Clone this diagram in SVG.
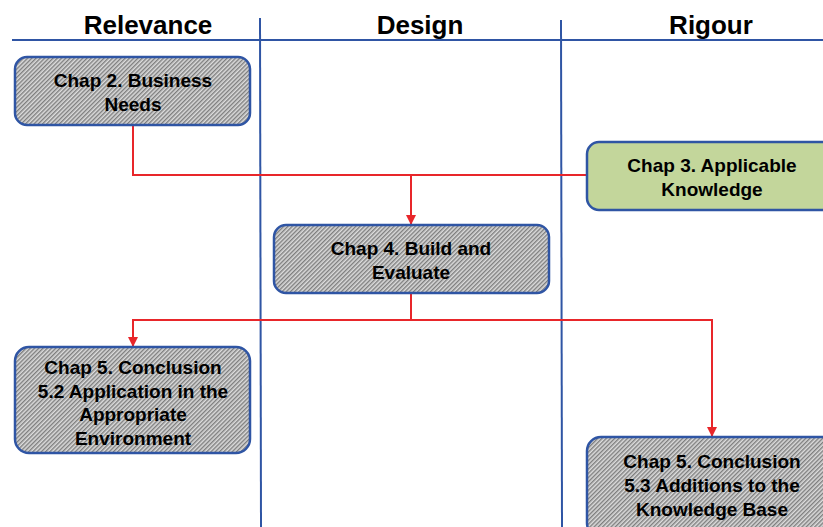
<svg xmlns="http://www.w3.org/2000/svg" width="823" height="527" viewBox="0 0 823 527">
<defs>
<pattern id="hatch" width="3" height="3" patternUnits="userSpaceOnUse" patternTransform="rotate(45)">
<rect width="3" height="3" fill="#dcdcdc"/>
<rect width="1.4" height="3" fill="#7e7e7e"/>
</pattern>
<marker id="arr" viewBox="0 0 10 10" refX="9" refY="5" markerWidth="5" markerHeight="5" orient="auto">
<path d="M0,0 L10,5 L0,10 z" fill="#e8262a"/>
</marker>
<style>
.hdr{font-family:"Liberation Sans",Arial,sans-serif;font-weight:bold;font-size:26px;fill:#000;text-anchor:middle}
.lane{stroke:#2f55a4;stroke-width:2;fill:none}
.box{fill:url(#hatch);stroke:#2f55a4;stroke-width:2.5}
.green{fill:#c3d69b;stroke:#2f55a4;stroke-width:2.5}
.lbl{font-family:"Liberation Sans",Arial,sans-serif;font-weight:bold;font-size:19px;fill:#000;text-anchor:middle}
.con{stroke:#e8262a;stroke-width:2;fill:none}
</style>
</defs>
<g id="lanes">
<line class="lane" x1="12" y1="40" x2="823" y2="40"/>
<line class="lane" x1="260" y1="18" x2="261" y2="527"/>
<line class="lane" x1="561" y1="20" x2="562" y2="527"/>
<text class="hdr" x="148" y="34">Relevance</text>
<text class="hdr" x="420" y="34">Design</text>
<text class="hdr" x="711" y="34">Rigour</text>
</g>
<g id="connectors">
<polyline class="con" points="133,125 133,175 587,175"/>
<line class="con" x1="411" y1="175" x2="411" y2="224" marker-end="url(#arr)"/>
<polyline class="con" points="411,293 411,320 133,320 133,346" marker-end="url(#arr)"/>
<polyline class="con" points="411,320 712,320 712,436" marker-end="url(#arr)"/>
</g>
<g id="n1">
<rect class="box" x="15" y="57" width="235" height="68" rx="12"/>
<text class="lbl" x="133" y="87">Chap 2. Business</text>
<text class="lbl" x="133" y="111">Needs</text>
</g>
<g id="n2">
<rect class="green" x="587" y="142" width="250" height="68" rx="12"/>
<text class="lbl" x="712" y="172">Chap 3. Applicable</text>
<text class="lbl" x="712" y="196">Knowledge</text>
</g>
<g id="n3">
<rect class="box" x="274" y="225" width="275" height="68" rx="12"/>
<text class="lbl" x="411" y="255">Chap 4. Build and</text>
<text class="lbl" x="411" y="279">Evaluate</text>
</g>
<g id="n4">
<rect class="box" x="15" y="347" width="235" height="106" rx="14"/>
<text class="lbl" x="133" y="374">Chap 5. Conclusion</text>
<text class="lbl" x="133" y="398">5.2 Application in the</text>
<text class="lbl" x="133" y="421">Appropriate</text>
<text class="lbl" x="133" y="445">Environment</text>
</g>
<g id="n5">
<rect class="box" x="587" y="437" width="250" height="100" rx="14"/>
<text class="lbl" x="712" y="468">Chap 5. Conclusion</text>
<text class="lbl" x="712" y="492">5.3 Additions to the</text>
<text class="lbl" x="712" y="516">Knowledge Base</text>
</g>
</svg>
